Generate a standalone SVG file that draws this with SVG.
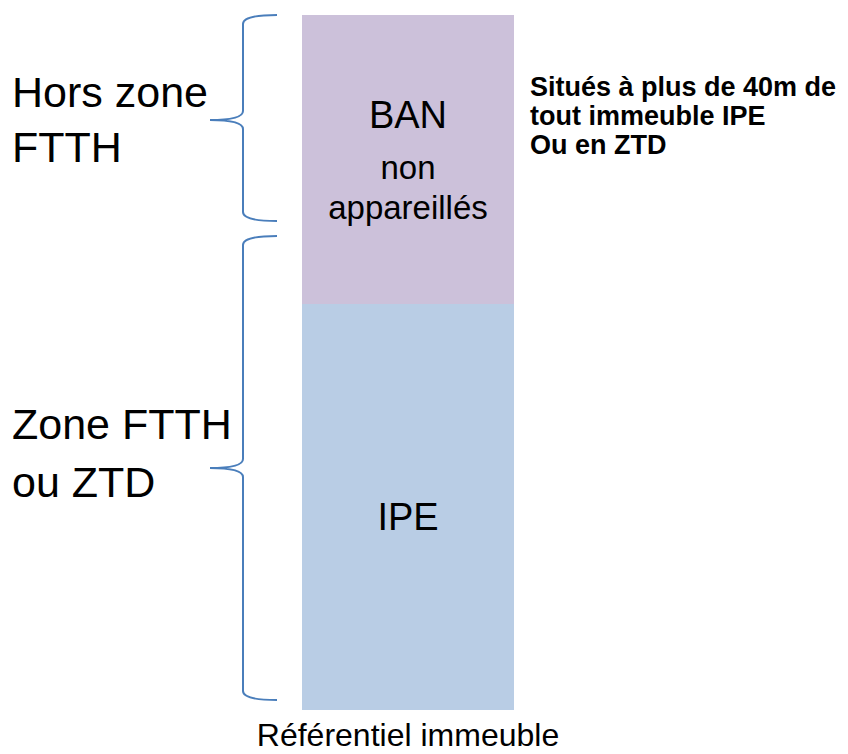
<svg xmlns="http://www.w3.org/2000/svg" width="848" height="754" viewBox="0 0 848 754">
<style>
.t{font-family:"Liberation Sans",Arial,sans-serif;fill:#000}
.brace{fill:none;stroke:#4a7ebb;stroke-width:2}
</style>
<rect width="848" height="754" fill="#fff"/>
<g id="ban">
<rect x="302" y="15" width="212" height="289" fill="#ccc1da"/>
<text class="t" x="408" y="128" font-size="38" text-anchor="middle">BAN</text>
<text class="t" x="408" y="179" font-size="33" text-anchor="middle">non</text>
<text class="t" x="408" y="219" font-size="33" text-anchor="middle">appareillés</text>
</g>
<g id="ipe">
<rect x="302" y="304" width="212" height="406" fill="#b9cde5"/>
<text class="t" x="408" y="530" font-size="38" text-anchor="middle">IPE</text>
</g>
<g id="hors">
<text class="t" x="12" y="107" font-size="43">Hors zone</text>
<text class="t" x="12" y="162" font-size="43">FTTH</text>
</g>
<g id="zone">
<text class="t" x="12" y="439" font-size="43">Zone FTTH</text>
<text class="t" x="12" y="497" font-size="43">ou ZTD</text>
</g>
<g id="note">
<text class="t" x="530" y="96" font-size="27" font-weight="bold">Situés à plus de 40m de</text>
<text class="t" x="530" y="125" font-size="27" font-weight="bold">tout immeuble IPE</text>
<text class="t" x="530" y="154" font-size="27" font-weight="bold">Ou en ZTD</text>
</g>
<g id="ref">
<text class="t" x="408" y="746" font-size="32" text-anchor="middle">Référentiel immeuble</text>
</g>
<g id="connectors">
<path class="brace" d="M277,15 C258,15 243,17 243,24 L243,111 C243,117 232,120 210,120 C232,120 243,123 243,129 L243,212 C243,219 258,221 277,221"/>
<path class="brace" d="M277,236 C258,236 243,238 243,245 L243,459 C243,465 232,468 210,468 C232,468 243,471 243,477 L243,691 C243,698 258,700 277,700"/>
</g>
</svg>
